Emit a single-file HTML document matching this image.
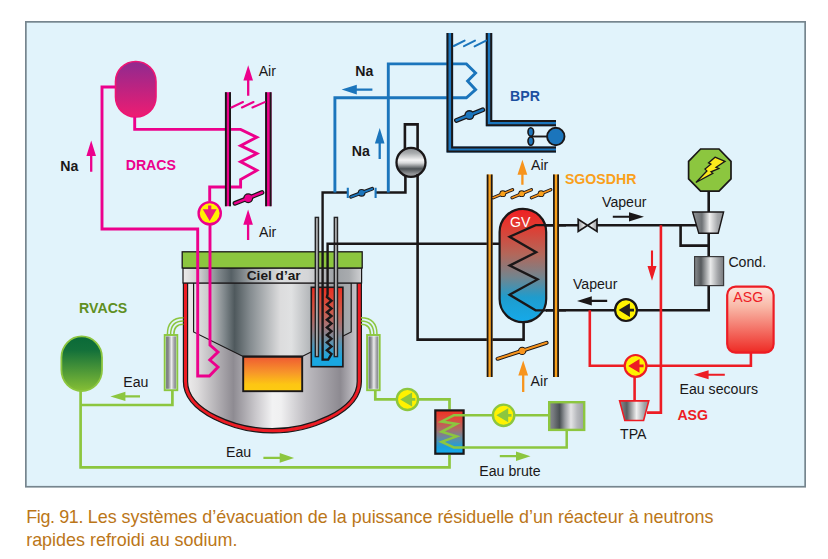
<!DOCTYPE html>
<html lang="fr">
<head>
<meta charset="utf-8">
<title>Fig. 91 – Systèmes d'évacuation de la puissance résiduelle</title>
<style>
html,body{margin:0;padding:0;background:#fff;}
body{width:828px;height:559px;position:relative;overflow:hidden;font-family:"Liberation Sans",sans-serif;}
svg{position:absolute;left:0;top:0;display:block;}
svg text{font-family:"Liberation Sans",sans-serif;}
.caption{position:absolute;left:26.2px;top:505.8px;width:800px;margin:0;color:#bb7618;font-size:17.93px;line-height:23.3px;white-space:nowrap;}
</style>
</head>
<body>
<svg width="828" height="559" viewBox="0 0 828 559">
<defs>
  <linearGradient id="gPinkTank" x1="0" y1="0" x2="0" y2="1">
    <stop offset="0" stop-color="#8f2a8f"/><stop offset="1" stop-color="#ee1c72"/>
  </linearGradient>
  <linearGradient id="gGreenTank" x1="0" y1="0" x2="0" y2="1">
    <stop offset="0" stop-color="#0a6a38"/><stop offset="0.25" stop-color="#13703a"/><stop offset="1" stop-color="#86bf35"/>
  </linearGradient>
  <linearGradient id="gAsg" x1="0" y1="0" x2="0" y2="1">
    <stop offset="0" stop-color="#fde4dc"/><stop offset="0.3" stop-color="#f9b9a8"/><stop offset="1" stop-color="#ee2a24"/>
  </linearGradient>
  <linearGradient id="gGV" x1="0" y1="0" x2="0" y2="1">
    <stop offset="0" stop-color="#ee2024"/><stop offset="0.15" stop-color="#e23a30"/><stop offset="0.4" stop-color="#b3675a"/><stop offset="0.6" stop-color="#74848d"/><stop offset="0.78" stop-color="#1f9ccd"/><stop offset="1" stop-color="#15aaea"/>
  </linearGradient>
  <linearGradient id="gIHX" x1="0" y1="0" x2="0" y2="1">
    <stop offset="0" stop-color="#ee2a24"/><stop offset="0.07" stop-color="#e53a2a"/><stop offset="0.3" stop-color="#cf5a4a"/><stop offset="0.52" stop-color="#9d7a7f"/><stop offset="0.63" stop-color="#7a8a98"/><stop offset="0.75" stop-color="#4a9ac0"/><stop offset="0.9" stop-color="#1aa7e0"/><stop offset="1" stop-color="#1aa7e0"/>
  </linearGradient>
  <linearGradient id="gSmallHX" x1="0" y1="0" x2="0" y2="1">
    <stop offset="0" stop-color="#ee3024"/><stop offset="0.2" stop-color="#e04a3c"/><stop offset="0.45" stop-color="#a86f6c"/><stop offset="0.65" stop-color="#5f8da8"/><stop offset="0.85" stop-color="#1aa0dc"/><stop offset="1" stop-color="#12aaf0"/>
  </linearGradient>
  <linearGradient id="gCore" x1="0" y1="0" x2="0" y2="1">
    <stop offset="0" stop-color="#ef5a32"/><stop offset="0.45" stop-color="#f7952a"/><stop offset="0.8" stop-color="#fdc613"/><stop offset="1" stop-color="#fdcb10"/>
  </linearGradient>
  <linearGradient id="gOuterVessel" x1="0" y1="0" x2="1" y2="0">
    <stop offset="0" stop-color="#ecebeb"/><stop offset="0.06" stop-color="#dedcdd"/><stop offset="0.27" stop-color="#8e8b92"/><stop offset="0.4" stop-color="#c9c7cb"/><stop offset="0.5" stop-color="#f2f2f3"/><stop offset="0.55" stop-color="#f0f0f1"/><stop offset="0.7" stop-color="#bdbbc0"/><stop offset="0.9" stop-color="#8d8a91"/><stop offset="1" stop-color="#c9c7cc"/>
  </linearGradient>
  <linearGradient id="gInnerVessel" x1="0" y1="0" x2="1" y2="0">
    <stop offset="0" stop-color="#e6e6e6"/><stop offset="0.1" stop-color="#c9c9ca"/><stop offset="0.2" stop-color="#7d8589"/><stop offset="0.26" stop-color="#4f595d"/><stop offset="0.36" stop-color="#858c90"/><stop offset="0.55" stop-color="#dcdcdd"/><stop offset="0.62" stop-color="#e0e1e2"/><stop offset="0.75" stop-color="#b0b3b6"/><stop offset="0.9" stop-color="#9a9da1"/><stop offset="1" stop-color="#a9acaf"/>
  </linearGradient>
  <linearGradient id="gCiel" x1="0" y1="0" x2="1" y2="0">
    <stop offset="0" stop-color="#ecebea"/><stop offset="0.1" stop-color="#c9cacb"/><stop offset="0.2" stop-color="#7f878b"/><stop offset="0.27" stop-color="#566065"/><stop offset="0.4" stop-color="#a9aeb1"/><stop offset="0.55" stop-color="#dddedf"/><stop offset="0.7" stop-color="#d4d5d7"/><stop offset="0.85" stop-color="#9da1a5"/><stop offset="0.93" stop-color="#a8abae"/><stop offset="1" stop-color="#cfd0d2"/>
  </linearGradient>
  <linearGradient id="gCyl" x1="0" y1="0" x2="1" y2="0">
    <stop offset="0" stop-color="#6f7175"/><stop offset="0.25" stop-color="#8e9094"/><stop offset="0.55" stop-color="#ececed"/><stop offset="0.8" stop-color="#a5a7ab"/><stop offset="1" stop-color="#808286"/>
  </linearGradient>
  <linearGradient id="gCond" x1="0" y1="0" x2="1" y2="0">
    <stop offset="0" stop-color="#8b8d90"/><stop offset="0.22" stop-color="#55595c"/><stop offset="0.55" stop-color="#e9eaea"/><stop offset="0.8" stop-color="#a3a5a8"/><stop offset="1" stop-color="#77797c"/>
  </linearGradient>
  <linearGradient id="gTurb" x1="0" y1="0" x2="1" y2="0">
    <stop offset="0" stop-color="#909396"/><stop offset="0.3" stop-color="#6e7275"/><stop offset="0.55" stop-color="#f0f0f0"/><stop offset="0.8" stop-color="#a8aaad"/><stop offset="1" stop-color="#8e9093"/>
  </linearGradient>
  <linearGradient id="gTpa" x1="0" y1="0" x2="1" y2="0">
    <stop offset="0" stop-color="#8a8d90"/><stop offset="0.25" stop-color="#5a5e61"/><stop offset="0.58" stop-color="#f0f0f0"/><stop offset="0.85" stop-color="#a0a2a5"/><stop offset="1" stop-color="#8a8c8f"/>
  </linearGradient>
  <linearGradient id="gValve" x1="0" y1="0" x2="1" y2="0">
    <stop offset="0" stop-color="#9a9c9f"/><stop offset="0.3" stop-color="#e6e7e8"/><stop offset="0.5" stop-color="#a9abae"/><stop offset="0.7" stop-color="#e6e7e8"/><stop offset="1" stop-color="#9a9c9f"/>
  </linearGradient>
  <linearGradient id="gBox" x1="0" y1="0" x2="1" y2="0">
    <stop offset="0" stop-color="#8a8d91"/><stop offset="0.12" stop-color="#75797d"/><stop offset="0.3" stop-color="#4a5054"/><stop offset="0.45" stop-color="#9a9da1"/><stop offset="0.62" stop-color="#e3e3e5"/><stop offset="0.8" stop-color="#b6b8bc"/><stop offset="1" stop-color="#9b9da3"/>
  </linearGradient>
  <linearGradient id="gSphere" x1="0" y1="0" x2="0" y2="1">
    <stop offset="0" stop-color="#8c8f92"/><stop offset="0.18" stop-color="#a9acae"/><stop offset="0.42" stop-color="#f4f4f4"/><stop offset="0.52" stop-color="#d7d8d9"/><stop offset="0.72" stop-color="#4c5154"/><stop offset="0.88" stop-color="#8b8e91"/><stop offset="1" stop-color="#a5a7aa"/>
  </linearGradient>
</defs>

<!-- frame -->
<rect x="25.85" y="21.85" width="779.3" height="464.9" fill="#e1f3fb" stroke="#76858e" stroke-width="1.7"/>

<g id="drawing" fill="none" stroke-linejoin="miter" stroke-linecap="butt">

<!-- ================= REACTOR VESSEL ================= -->
<g id="vessel">
  <!-- outer red guard vessel -->
  <path d="M183.4 283 V381.4 C183.4 412.8 234.8 432.9 272.4 432.9 C310 432.9 361.4 412.8 361.4 381.4 V283 Z" fill="#ed1c24" stroke="#1a1718" stroke-width="1.2"/>
  <!-- main vessel -->
  <path d="M187.6 283 V381.4 C187.6 410.3 236.6 428.7 272.4 428.7 C308.2 428.7 357.2 410.3 357.2 381.4 V283 Z" fill="url(#gOuterVessel)" stroke="#1a1718" stroke-width="1.2"/>
  <!-- inner vessel -->
  <path d="M193.6 283 V332 L242.6 356.2 H302.6 L351.2 332 V283 Z" fill="url(#gInnerVessel)" stroke="#1a1718" stroke-width="1.2"/>
  <!-- core -->
  <rect x="243.2" y="356.8" width="59" height="34.4" fill="url(#gCore)" stroke="#1a1718" stroke-width="1.9"/>
  <!-- IHX box -->
  <rect x="311.3" y="287.3" width="31.6" height="79.4" fill="url(#gIHX)" stroke="#1a1718" stroke-width="1.6"/>
  <!-- ciel band -->
  <rect x="183" y="268" width="178.6" height="15" fill="url(#gCiel)" stroke="#1a1718" stroke-width="1.2"/>
  <!-- green slab -->
  <rect x="182.2" y="251.8" width="180" height="16.2" fill="#8cc63f" stroke="#1a1718" stroke-width="1.3"/>
</g>

<!-- ================= BLACK PRIMARY / SECONDARY CIRCUITS ================= -->
<g id="black" stroke="#1a1718" stroke-width="2.6">
  <!-- grey tubes into IHX -->
  <rect x="315.3" y="217.4" width="3.2" height="139.2" fill="#a9aaac" stroke="#242426" stroke-width="1.4"/>
  <rect x="334.3" y="217.4" width="3.2" height="139.2" fill="#a9aaac" stroke="#242426" stroke-width="1.4"/>
  <!-- secondary loop through IHX -->
  <path d="M347.8 192.5 H322.6 V359.6 H328.2 L331.5 354 L326.9 350.2 L331.5 346.4 L326.9 342.6 L331.5 338.8 L326.9 335.0 L331.5 331.2 L326.9 327.4 L331.5 323.6 L326.9 319.8 L331.5 316.0 L326.9 312.2 L331.5 308.4 L326.9 304.6 L331.5 300.8 L326.9 297.0 L327.6 294 V243.8 H500" stroke-width="2.4" stroke-linejoin="miter"/>
  <path d="M375.6 192.5 H405.4 V174"/>
  <!-- expansion / pump sphere -->
  <path d="M404.9 152 V124.4 H417.6 V152" stroke-width="2.6"/>
  <circle cx="411" cy="162.4" r="14.5" fill="url(#gSphere)" stroke-width="2.3"/>
  <path d="M417.6 174 V339.6 H523.6 V321"/>
  <!-- GV lines -->
  <path d="M546 225.2 H578 M597 225.2 H697"/>
  <path d="M680.6 225.2 V245.6 H708.7"/>
  <path d="M708.7 190 V212 M708.7 233 V257 M708.7 285 V310.3 H637 M615 310.3 H546"/>
</g>

<!-- ================= SGOSDHR (orange) + GV ================= -->
<g id="sgosdhr" stroke="#f7941d" stroke-width="2.4">
  <!-- right wall under black lines -->
  <path d="M546 225.2 H566 M546 310.3 H566" stroke="#1a1718" stroke-width="2.6"/>
  <!-- GV capsule -->
  <rect x="499.6" y="208.8" width="46.6" height="113.4" rx="23.3" ry="23.3" fill="url(#gGV)" stroke="#1a1718" stroke-width="2.2"/>
  <path d="M547 225.2 H535.6 L509.6 236.8 L536.2 252.2 L509.6 265.6 L537.6 279.4 L509.6 294.8 L535.6 310.3 H547" stroke="#1a1718" stroke-width="2.3"/>
  <!-- left wall on top of black lines -->
  <rect x="486.8" y="174.4" width="5.7" height="202.6" fill="#f9a11b" stroke="none"/>
  <path d="M487.6 174.4 V377 M491.7 174.4 V377" stroke="#1a1718" stroke-width="1.75"/>
  <rect x="553.1" y="174.4" width="5.8" height="202.6" fill="#f9a11b" stroke="none"/>
  <path d="M553.9 174.4 V377 M558.1 174.4 V377" stroke="#1a1718" stroke-width="1.75"/>
  <!-- top dampers -->
  <g transform="translate(502.8 193.7)">
    <path d="M-9.7 4 L9.7 -4" stroke="#1a1718" stroke-width="3.3" stroke-linecap="round"/>
    <circle cx="0" cy="0" r="3.4" fill="#1a1718" stroke="none"/>
    <path d="M-9.7 4 L9.7 -4" stroke-width="1.5" stroke-linecap="round"/>
    <circle cx="0" cy="0" r="2.5" fill="#f9a11b" stroke="none"/>
  </g>
  <g transform="translate(521.7 193.7)">
    <path d="M-9.7 4 L9.7 -4" stroke="#1a1718" stroke-width="3.3" stroke-linecap="round"/>
    <circle cx="0" cy="0" r="3.4" fill="#1a1718" stroke="none"/>
    <path d="M-9.7 4 L9.7 -4" stroke-width="1.5" stroke-linecap="round"/>
    <circle cx="0" cy="0" r="2.5" fill="#f9a11b" stroke="none"/>
  </g>
  <g transform="translate(541.1 193.7)">
    <path d="M-9.7 4 L9.7 -4" stroke="#1a1718" stroke-width="3.3" stroke-linecap="round"/>
    <circle cx="0" cy="0" r="3.4" fill="#1a1718" stroke="none"/>
    <path d="M-9.7 4 L9.7 -4" stroke-width="1.5" stroke-linecap="round"/>
    <circle cx="0" cy="0" r="2.5" fill="#f9a11b" stroke="none"/>
  </g>
  <!-- bottom damper -->
  <path d="M497.6 358.8 L546.6 342.8" stroke="#1a1718" stroke-width="4" stroke-linecap="round"/>
  <circle cx="522.2" cy="350.9" r="4.2" fill="#1a1718" stroke="none"/>
  <path d="M497.6 358.8 L546.6 342.8" stroke-width="2" stroke-linecap="round"/>
  <circle cx="522.2" cy="350.9" r="3.1" fill="#f7941d" stroke="none"/>
</g>

<!-- ================= STEAM / TURBINE / CONDENSER ================= -->
<g id="steam" stroke="#1a1718" stroke-width="1.3">
  <!-- valve -->
  <path d="M578.2 219.2 V231.4 L597 219.2 V231.4 Z" fill="url(#gValve)" stroke-width="1.7"/>
  <!-- generator octagon -->
  <path d="M700.6 149 H719 L731 161.4 V178.8 L719 191.1 H700.6 L688.6 178.8 V161.4 Z" fill="#8cc63f" stroke-width="1.7"/>
  <path d="M715 157.2 L725 161.3 L716 167.3 L718.8 168.5 L711 171.8 L712.8 173.3 L695.9 182.5 L706.9 170.9 L705 169.1 L710.9 164.2 L708.5 162.9 Z" fill="#fbe91c" stroke-width="1.3" stroke-linejoin="miter"/>
  <!-- turbine -->
  <path d="M692.6 212 H723.6 L718.2 233.2 H698.8 Z" fill="url(#gTurb)" stroke-width="1.4"/>
  <!-- condenser -->
  <rect x="694.6" y="256.6" width="29" height="29" fill="url(#gCond)" stroke="#3a3a3c" stroke-width="1.2"/>
  <!-- black pump -->
  <circle cx="626" cy="310.1" r="10.9" fill="#fff200" stroke-width="2.2"/>
  <path d="M618.6 310.1 L629.9 303.2 V308.7 H634.0 V311.5 H629.9 V317.0 Z" fill="#231f20" stroke="none"/>
</g>

<!-- ================= ASG (red) ================= -->
<g id="asg" stroke="#ed1c24" stroke-width="2.6">
  <path d="M660.9 225.2 V412.6 H647"/>
  <path d="M589.8 310.3 V365.7 H624.5 M646.5 365.7 H750.9 V352"/>
  <path d="M634.6 377 V401"/>
  <rect x="727.2" y="286.6" width="46.4" height="66" rx="8.5" ry="8.5" fill="url(#gAsg)" stroke-width="2.2"/>
  <!-- TPA -->
  <path d="M619.6 400.9 H648.8 L643.6 420.5 H624.8 Z" fill="url(#gTpa)" stroke-width="1.6"/>
  <!-- pump -->
  <circle cx="635.6" cy="365.9" r="10.9" fill="#fff200" stroke-width="2.2"/>
  <path d="M628.2 365.9 L639.5 359.0 V364.5 H643.6 V367.3 H639.5 V372.8 Z" fill="#ed1c24" stroke="none"/>
</g>

<!-- ================= RVACS (green) ================= -->
<g id="rvacs" stroke="#8cc63f" stroke-width="2.7">
  <!-- left exchanger -->
  <path d="M167.4 334.6 C167.4 324 172 317.8 183.4 317.8 M170.6 334.6 C170.6 326.6 174 321 183.4 321 M173.8 334.6 C173.8 329 176.4 324.2 183.4 324.2" stroke-width="1.5"/>
  <rect x="166.1" y="336.4" width="9.8" height="52.4" fill="url(#gCyl)" stroke="none"/>
  <rect x="164.7" y="335" width="12.6" height="55.2" stroke-width="1.9"/>
  <!-- right exchanger -->
  <path d="M377 334.6 C377 324 372.4 317.8 361 317.8 M373.8 334.6 C373.8 326.6 370.4 321 361 321 M370.6 334.6 C370.6 329 368 324.2 361 324.2" stroke-width="1.5"/>
  <rect x="368.5" y="336.4" width="9.8" height="52.4" fill="url(#gCyl)" stroke="none"/>
  <rect x="367.1" y="335" width="12.6" height="55.2" stroke-width="1.9"/>
  <!-- tank -->
  <rect x="61.4" y="336.4" width="40.6" height="54.6" rx="20.3" ry="21" fill="url(#gGreenTank)" stroke-width="1.8"/>
  <!-- piping -->
  <path d="M172.4 390.6 V405 H80.6"/>
  <path d="M80.6 391 V467.3 H449.5 V455"/>
  <path d="M375.3 390.6 V399.45 H396.5 M418.5 399.45 H449.5 V409.5"/>
  <!-- small HX -->
  <rect x="435.3" y="410.4" width="28.3" height="43.3" fill="url(#gSmallHX)" stroke="#1a1718" stroke-width="2.2"/>
  <path d="M549 415.3 H514.6 M492.6 415.3 H453.8 L441.6 421.5 L456.6 423.9 L441.6 431.8 L456.6 436.3 L441.6 441.9 L453.8 447.5 H566.7 V431" stroke-width="2.5"/>
  <!-- raw water box -->
  <rect x="549.2" y="402.2" width="35" height="27.7" fill="url(#gBox)" stroke-width="2.4"/>
  <!-- pumps -->
  <circle cx="407.45" cy="399.45" r="10.6" fill="#fff200" stroke-width="2.4"/>
  <path d="M400.2 399.45 L412.1 392.4 V398.1 H415.3 V400.8 H412.1 V406.4 Z" fill="#8cc63f" stroke="none"/>
  <circle cx="503.6" cy="415.3" r="10.7" fill="#fff200" stroke-width="2.4"/>
  <path d="M496.4 415.3 L508.2 408.3 V413.9 H511.5 V416.7 H508.2 V422.3 Z" fill="#8cc63f" stroke="none"/>
</g>

<!-- ================= BPR (blue) ================= -->
<g id="bpr" stroke="#1b75bc" stroke-width="2.9">
  <path d="M388.3 192.5 V63.9 H466.4 L475.6 73 L467.6 81 L475.6 89.7 L466.4 97.8 H334.9 V192.5"/>
  <!-- valve on secondary line -->
  <path d="M347.8 187.8 V198 M375.6 187.8 V198" stroke-width="2.1"/>
  <path d="M351 196.8 L372.2 188.8" stroke="#1a1718" stroke-width="3.8" stroke-linecap="round"/>
  <circle cx="361.6" cy="192.8" r="3.9" fill="#1a1718" stroke="none"/>
  <path d="M351 196.8 L372.2 188.8" stroke-width="1.8" stroke-linecap="round"/>
  <circle cx="361.6" cy="192.8" r="2.8" fill="#1b75bc" stroke="none"/>
  <!-- chimney walls -->
  <path d="M446.6 33 H453.1 V146.4 H556 V152.6 H446.6 Z" fill="#1b75bc" stroke="none"/>
  <path d="M447.5 33 V151.6 H556 M452.1 33 V147.4 H556" stroke="#1a1718" stroke-width="2"/>
  <path d="M485.8 33 H492.2 V120 H556 V126.2 H485.8 Z" fill="#1b75bc" stroke="none"/>
  <path d="M486.8 33 V125.2 H556 M491.2 33 V121 H556" stroke="#1a1718" stroke-width="2"/>
  <!-- louvres -->
  <path d="M453.8 46 L464.6 40.6 M464 46.2 L475 40.6 M474.6 46.4 L486 40.6" stroke-width="2" stroke-linecap="round"/>
  <!-- damper -->
  <path d="M456.4 120.4 L482.8 109.8" stroke="#1a1718" stroke-width="4.8" stroke-linecap="round"/>
  <circle cx="469.4" cy="115.1" r="5" fill="#1a1718" stroke="none"/>
  <path d="M456.4 120.4 L482.8 109.8" stroke-width="2.4" stroke-linecap="round"/>
  <circle cx="469.4" cy="115.1" r="3.7" fill="#1b75bc" stroke="none"/>
  <!-- fan -->
  <path d="M531 136.5 H548" stroke="#1a1718" stroke-width="1.9"/>
  <ellipse cx="530.8" cy="131.9" rx="2.8" ry="4.2" fill="#1b75bc" stroke="#1a1718" stroke-width="1.6"/>
  <ellipse cx="530.8" cy="141.1" rx="2.8" ry="4.2" fill="#1b75bc" stroke="#1a1718" stroke-width="1.6"/>
  <circle cx="555.8" cy="136.5" r="8.7" fill="#1b75bc" stroke="#1a1718" stroke-width="1.9"/>
</g>

<!-- ================= DRACS (magenta) ================= -->
<g id="dracs" stroke="#ec008c" stroke-width="2.9">
  <!-- tank -->
  <rect x="115.5" y="61.5" width="40.5" height="55.5" rx="20" ry="20" fill="url(#gPinkTank)" stroke="#ee1574" stroke-width="1.6"/>
  <!-- left loop -->
  <path d="M115 87 H102 V229 H197.7 V376 H209.4 L218 367 L209.8 360 L218 352 L210 345 V224.5"/>
  <path d="M209.7 201 V187 H240.6 V179.6 L256.8 170.4 L240.6 161.8 L256.8 153.6 L240.6 145.6 L256.8 137.2 L240.6 129.4 H134.7 V117"/>
  <!-- chimney walls -->
  <rect x="225" y="92.2" width="6" height="114" fill="#ec008c" stroke="none"/>
  <path d="M225.85 92.2 V206.2 M230.05 92.2 V206.2" stroke="#1a1718" stroke-width="1.9"/>
  <rect x="265.2" y="92.2" width="6.3" height="114" fill="#ec008c" stroke="none"/>
  <path d="M266.1 92.2 V206.2 M270.6 92.2 V206.2" stroke="#1a1718" stroke-width="1.9"/>
  <!-- louvres -->
  <path d="M231.5 107.5 L243 102 M242 107.5 L253.5 102 M252.5 107.5 L264.7 102.1" stroke-width="2.1" stroke-linecap="round"/>
  <!-- damper -->
  <path d="M235 203.3 L262 192.6" stroke="#1a1718" stroke-width="4.8" stroke-linecap="round"/>
  <circle cx="248.2" cy="198.2" r="5" fill="#1a1718" stroke="none"/>
  <path d="M235 203.3 L262 192.6" stroke-width="2.4" stroke-linecap="round"/>
  <circle cx="248.2" cy="198.2" r="3.7" fill="#ec008c" stroke="none"/>
  <!-- pump -->
  <circle cx="209.7" cy="213.2" r="11.1" fill="#fff200" stroke-width="2.4"/>
  <path d="M208.1 205.6 H211.3 V209.3 H216.6 L209.7 220.9 L202.8 209.3 H208.1 Z" fill="#ec1c7c" stroke="none"/>
</g>

<!-- ================= FLOW ARROWS ================= -->
<g id="arrows" stroke="none">
  <path d="M248.2 65.2 L253.0 80.4 H249.35 V95.80000000000001 H247.04999999999998 V80.4 H243.39999999999998 Z" fill="#ec008c"/>
  <path d="M248.1 209.6 L252.9 224.79999999999998 H249.25 V240.0 H246.95 V224.79999999999998 H243.29999999999998 Z" fill="#ec008c"/>
  <path d="M91.2 140.6 L96.0 156.0 H92.35000000000001 V171.79999999999998 H90.05 V156.0 H86.4 Z" fill="#ec008c"/>
  <path d="M341.6 89.6 L356.8 84.8 V88.44999999999999 H372.40000000000003 V90.75 H356.8 V94.39999999999999 Z" fill="#1b75bc"/>
  <path d="M379.7 128 L384.5 143.4 H380.84999999999997 V159 H378.55 V143.4 H374.9 Z" fill="#1b75bc"/>
  <path d="M522.4 159.8 L527.3 174.8 H523.55 V184.8 H521.25 V174.8 H517.5 Z" fill="#f7941d"/>
  <path d="M523.2 360.5 L528.1 375.5 H524.35 V392.0 H522.0500000000001 V375.5 H518.3000000000001 Z" fill="#f7941d"/>
  <path d="M644 216.8 L629 212.20000000000002 V215.75 H612.8 V217.85000000000002 H629 V221.4 Z" fill="#1a1718"/>
  <path d="M577 300.9 L591.8 296.2 V299.84999999999997 H607.2 V301.95 H591.8 V305.59999999999997 Z" fill="#1a1718"/>
  <path d="M652 280.8 L656.5 266.0 H653.05 V250.60000000000002 H650.95 V266.0 H647.5 Z" fill="#ed1c24"/>
  <path d="M693.6 374.7 L708.6 370.2 V373.65 H724.8000000000001 V375.75 H708.6 V379.2 Z" fill="#ed1c24"/>
  <path d="M110.4 396.4 L125.4 391.79999999999995 V395.25 H140.0 V397.54999999999995 H125.4 V401.0 Z" fill="#8cc63f"/>
  <path d="M294.1 457.9 L279.70000000000005 453.09999999999997 V456.75 H263.40000000000003 V459.04999999999995 H279.70000000000005 V462.7 Z" fill="#8cc63f"/>
  <path d="M530.5 456.2 L516.0 451.4 V455.05 H499.8 V457.34999999999997 H516.0 V461.0 Z" fill="#8cc63f"/>
</g>

<!-- ================= LABELS ================= -->
<g id="labels" stroke="none" fill="#1a1718" font-size="14.15">
  <text x="60.2" y="170.5" font-weight="bold">Na</text>
  <text x="125.7" y="170.2" font-weight="bold" fill="#ec008c">DRACS</text>
  <text x="258.7" y="75.8">Air</text>
  <text x="259.0" y="236.6">Air</text>
  <text x="355.2" y="75.7" font-weight="bold">Na</text>
  <text x="351.7" y="156.3" font-weight="bold">Na</text>
  <text x="510.0" y="100.5" font-weight="bold" fill="#1c4f9f">BPR</text>
  <text x="531.0" y="169.8">Air</text>
  <text x="564.9" y="183.7" font-weight="bold" fill="#f9a01b">SGOSDHR</text>
  <text x="510.1" y="226.5" fill="#ffffff">GV</text>
  <text x="602.0" y="206.5">Vapeur</text>
  <text x="572.9" y="288.6">Vapeur</text>
  <text x="728.4" y="267">Cond.</text>
  <text x="733.3" y="302" fill="#ed1c24">ASG</text>
  <text x="679.5" y="394.3">Eau secours</text>
  <text x="677.4" y="420" font-weight="bold" fill="#ed1c24">ASG</text>
  <text x="620.0" y="439">TPA</text>
  <text x="530.6" y="386.4">Air</text>
  <text x="479.3" y="475.6">Eau brute</text>
  <text x="226.0" y="457">Eau</text>
  <text x="123.3" y="387">Eau</text>
  <text x="79.1" y="312.6" font-weight="bold" fill="#5f8f22">RVACS</text>
  <text x="246.7" y="279.6" font-weight="bold" font-size="13.7">Ciel d’ar</text>
</g>

</g>
</svg>
<p class="caption"><span style="letter-spacing:-0.36px">Fig. 91. </span>Les systèmes d’évacuation de la puissance résiduelle d’un réacteur à neutrons<br>rapides refroidi au sodium.</p>
</body>
</html>
